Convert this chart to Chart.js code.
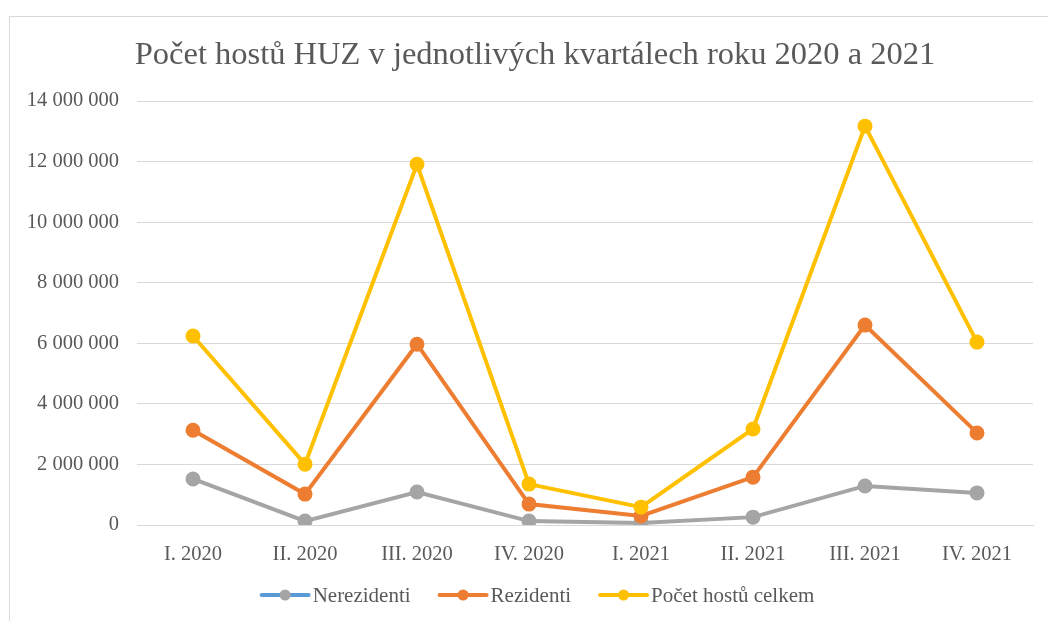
<!DOCTYPE html>
<html lang="cs">
<head>
    <meta charset="UTF-8">
    <title>Počet hostů HUZ</title>
    <script src="https://cdn.jsdelivr.net/npm/chart.js@4.4.1/dist/chart.umd.min.js"></script>
    <style>
        html, body { margin: 0; padding: 0; background: #fff; }
        #wrap { position: relative; width: 1048px; height: 621px; overflow: hidden; }
        #frame { position: absolute; left: 9px; top: 16px; width: 1100px; height: 700px;
                 border-top: 1px solid #d9d9d9; border-left: 1px solid #d9d9d9; }
        #chart { position: absolute; left: 0; top: 0; }
    </style>
</head>
<body>
<div id="wrap">
    <div id="frame"></div>
    <canvas id="chart" width="1048" height="621"></canvas>
</div>
<script>
    const quarters = ["I. 2020", "II. 2020", "III. 2020", "IV. 2020", "I. 2021", "II. 2021", "III. 2021", "IV. 2021"];
    const nerezidenti = [1520000, 130000, 1090000, 130000, 70000, 260000, 1290000, 1060000];
    const rezidenti = [3130000, 1020000, 5970000, 690000, 300000, 1580000, 6600000, 3040000];
    const celkem = [6240000, 2010000, 11910000, 1350000, 590000, 3170000, 13170000, 6040000];
    const seriesNames = ["Nerezidenti", "Rezidenti", "Počet hostů celkem"];

    const chartTitle = "Počet hostů HUZ v jednotlivých kvartálech roku 2020 a 2021";
    const textColor = '#595959';
    const font = "'Liberation Serif', 'Times New Roman', serif";

    const fmt = v => String(v).replace(/\B(?=(\d{3})+(?!\d))/g, ' ');

    // title and legend drawn by hand, to get the Excel look
    const decor = {
        id: 'decor',
        afterDraw(chart) {
            const ctx = chart.ctx;
            ctx.save();
            ctx.fillStyle = textColor;
            ctx.font = "32.5px " + font;
            ctx.textAlign = 'center';
            ctx.textBaseline = 'alphabetic';
            ctx.fillText(chartTitle, 535, 64);

            ctx.font = "21px " + font;
            ctx.textAlign = 'left';
            ctx.textBaseline = 'middle';
            const y = 595, lineLen = 47, gapText = 4, gapItem = 29;
            const items = chart.data.datasets;
            let total = 0;
            items.forEach((ds, i) => {
                total += lineLen + gapText + ctx.measureText(ds.label).width;
                if (i < items.length - 1) total += gapItem;
            });
            let x = 538 - total / 2;
            items.forEach(ds => {
                ctx.strokeStyle = ds.legendColor || ds.borderColor;
                ctx.lineWidth = 4;
                ctx.lineCap = 'round';
                ctx.beginPath();
                ctx.moveTo(x, y);
                ctx.lineTo(x + lineLen, y);
                ctx.stroke();
                ctx.fillStyle = ds.pointBackgroundColor;
                ctx.beginPath();
                ctx.arc(x + lineLen / 2, y, 5.5, 0, Math.PI * 2);
                ctx.fill();
                x += lineLen + gapText;
                ctx.fillStyle = textColor;
                ctx.fillText(ds.label, x, y + 1);
                x += ctx.measureText(ds.label).width + gapItem;
            });
            ctx.restore();
        }
    };

    const lineStyle = (color) => ({
        borderColor: color,
        backgroundColor: color,
        pointBackgroundColor: color,
        pointBorderColor: color,
        borderWidth: 4,
        pointRadius: 5.5,
        pointHoverRadius: 5.5,
        tension: 0,
        fill: false
    });

    new Chart(document.getElementById('chart').getContext('2d'), {
        type: 'line',
        data: {
            labels: quarters,
            datasets: [
                Object.assign({ label: seriesNames[0], data: nerezidenti, order: 2, legendColor: '#5b9bd5' }, lineStyle('#a5a5a5')),
                Object.assign({ label: seriesNames[1], data: rezidenti, order: 1 }, lineStyle('#ed7d31')),
                Object.assign({ label: seriesNames[2], data: celkem, order: 0 }, lineStyle('#ffc000'))
            ]
        },
        options: {
            responsive: false,
            animation: false,
            layout: { padding: { left: 10, right: 15, top: 101, bottom: 46 } },
            plugins: {
                legend: { display: false },
                title: { display: false },
                tooltip: { enabled: false }
            },
            scales: {
                x: {
                    offset: true,
                    grid: { display: false },
                    border: { color: '#d9d9d9', width: 1 },
                    ticks: { color: textColor, font: { family: font, size: 20.5 }, padding: 9, maxRotation: 0 },
                    afterFit: s => { s.height = 50; }
                },
                y: {
                    min: 0,
                    max: 14000000,
                    ticks: { stepSize: 2000000, color: textColor, font: { family: font, size: 20.5 }, padding: 18,
                             callback: v => fmt(v) },
                    grid: { color: '#d9d9d9', drawTicks: false },
                    border: { display: false },
                    afterFit: s => { s.width = 127; }
                }
            }
        },
        plugins: [decor]
    });
</script>
</body>
</html>
